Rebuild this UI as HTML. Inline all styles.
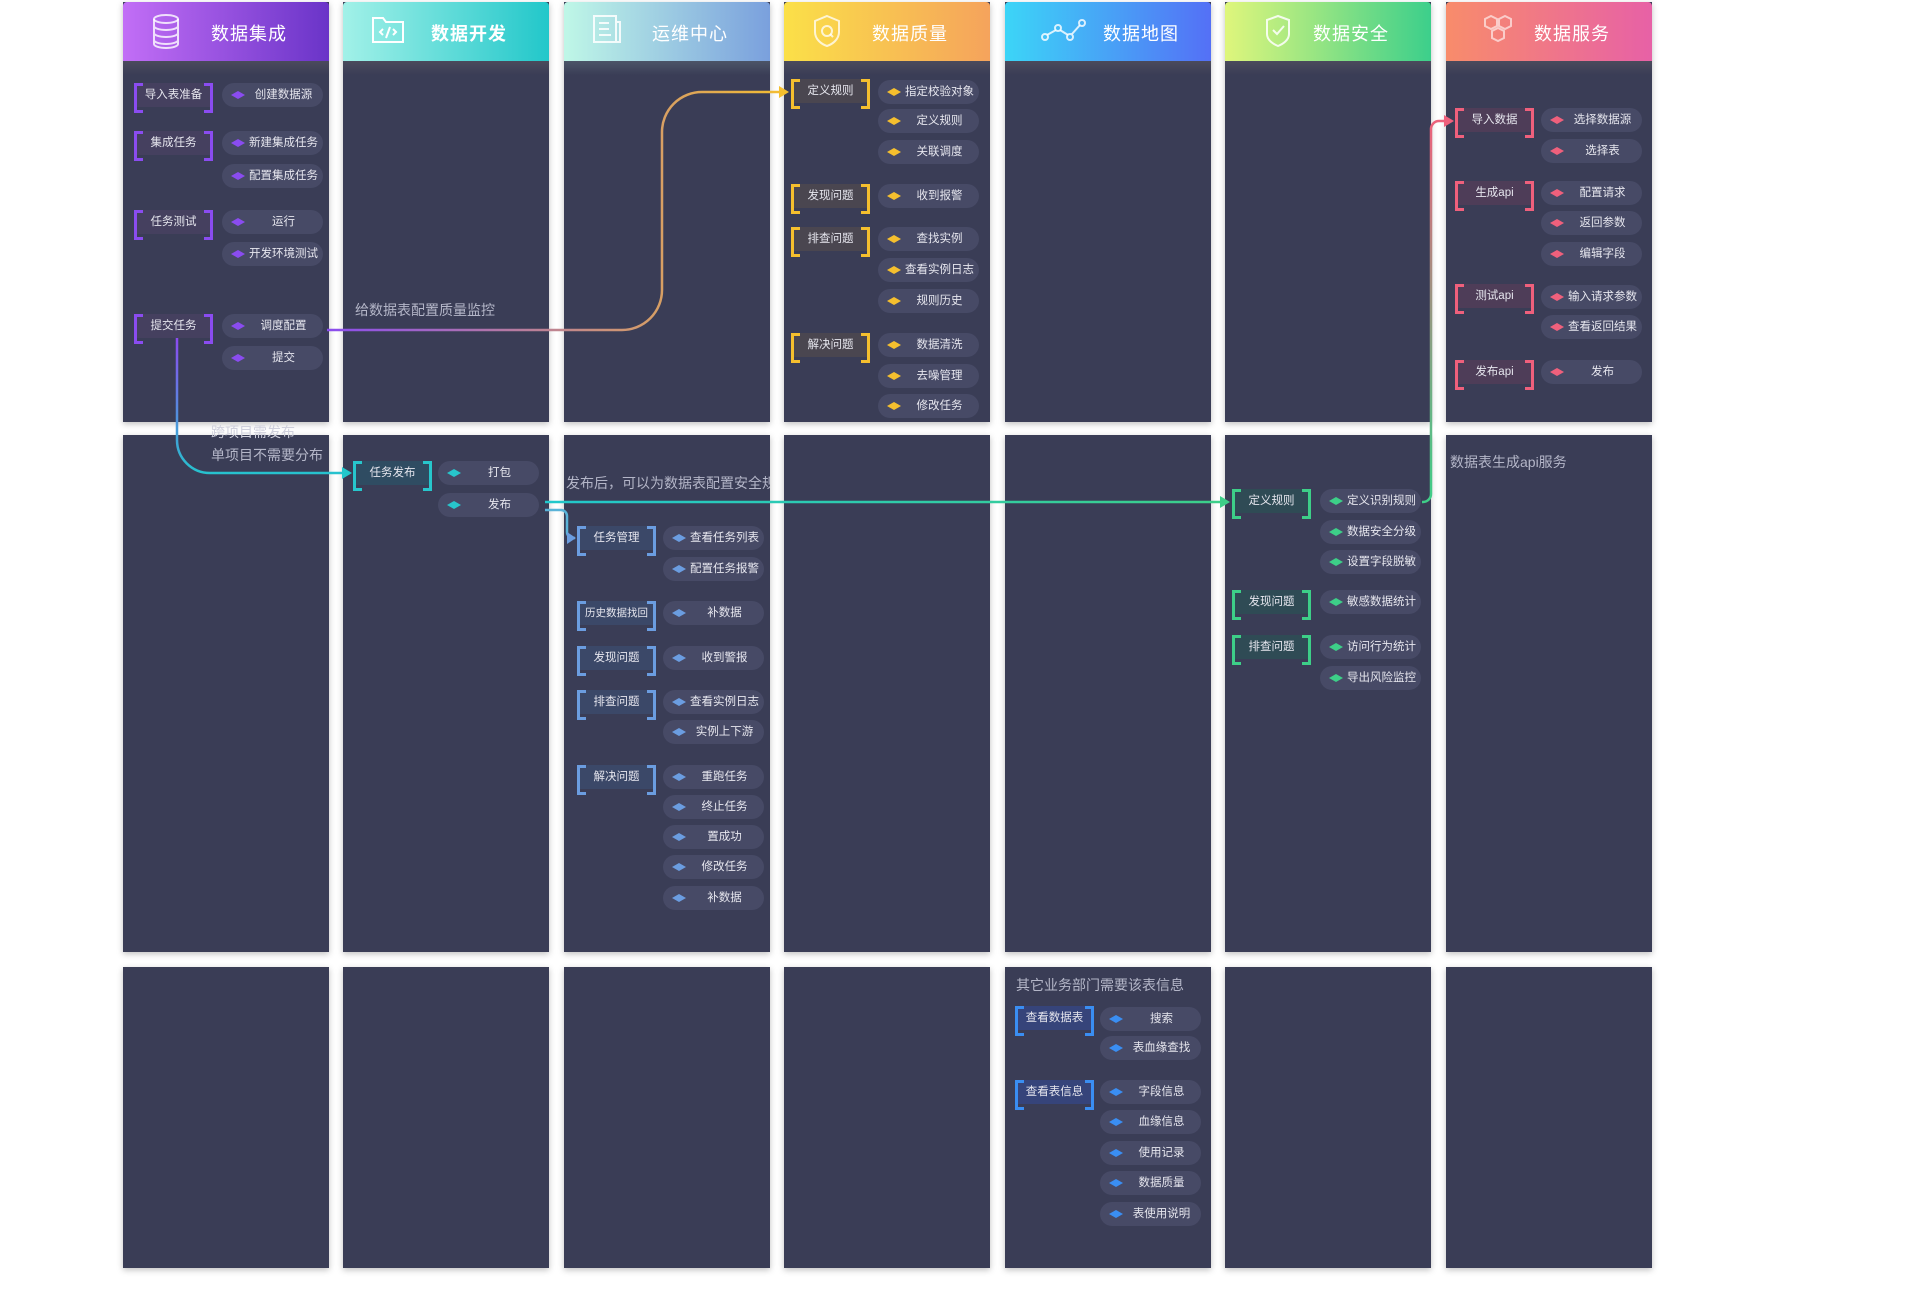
<!DOCTYPE html>
<html><head><meta charset="utf-8">
<style>
*{margin:0;padding:0;box-sizing:border-box}
body{width:1920px;height:1316px;background:#fff;position:relative;overflow:hidden;font-family:"Liberation Sans","Noto Sans CJK SC",sans-serif}
.p{position:absolute;background:#3a3d56;box-shadow:0 2px 6px rgba(0,0,0,.25);overflow:hidden}
.hd{position:absolute;left:0;top:0;width:206px;height:59px;border-radius:4px 4px 0 0}
.band{position:absolute;left:0;top:59px;width:206px;height:14px;background:linear-gradient(#4b4b5c,#3a3d56)}
.ht{position:absolute;top:18px;left:88px;color:#fff;font-size:18px;letter-spacing:1px}
.ic{position:absolute;left:28px;top:12px}
.lb{position:absolute;width:79px;height:24px;font-size:11.5px;color:#e6e6ee;text-align:center;line-height:24px;white-space:nowrap}
.lb:before,.lb:after{content:"";position:absolute;top:0;width:6px;height:24px;border:3px solid var(--c)}
.lb:before{left:0;border-right:none}
.lb:after{right:0;border-left:none}
.pl{position:absolute;width:101px;height:24px;border-radius:12px;background:#474a66;font-size:11.5px;color:#e6e6ee;line-height:24px;text-align:center;padding-left:22px;white-space:nowrap}
.pl i{position:absolute;left:9px;top:8px;width:14px;height:8px;background:var(--c);clip-path:polygon(50% 0,100% 50%,50% 100%,0 50%)}
.an{position:absolute;color:#b4b6c8;font-size:14px;white-space:nowrap}
</style></head><body>

<!-- panels row1 -->
<div class="p" style="left:123px;top:2px;width:206px;height:420px"></div>
<div class="p" style="left:343px;top:2px;width:206px;height:420px"></div>
<div class="p" style="left:564px;top:2px;width:206px;height:420px"></div>
<div class="p" style="left:784px;top:2px;width:206px;height:420px"></div>
<div class="p" style="left:1005px;top:2px;width:206px;height:420px"></div>
<div class="p" style="left:1225px;top:2px;width:206px;height:420px"></div>
<div class="p" style="left:1446px;top:2px;width:206px;height:420px"></div>
<!-- row2 -->
<div class="p" style="left:123px;top:435px;width:206px;height:517px"></div>
<div class="p" style="left:343px;top:435px;width:206px;height:517px"></div>
<div class="p" style="left:564px;top:435px;width:206px;height:517px"></div>
<div class="p" style="left:784px;top:435px;width:206px;height:517px"></div>
<div class="p" style="left:1005px;top:435px;width:206px;height:517px"></div>
<div class="p" style="left:1225px;top:435px;width:206px;height:517px"></div>
<div class="p" style="left:1446px;top:435px;width:206px;height:517px"></div>
<!-- row3 -->
<div class="p" style="left:123px;top:967px;width:206px;height:301px"></div>
<div class="p" style="left:343px;top:967px;width:206px;height:301px"></div>
<div class="p" style="left:564px;top:967px;width:206px;height:301px"></div>
<div class="p" style="left:784px;top:967px;width:206px;height:301px"></div>
<div class="p" style="left:1005px;top:967px;width:206px;height:301px"></div>
<div class="p" style="left:1225px;top:967px;width:206px;height:301px"></div>
<div class="p" style="left:1446px;top:967px;width:206px;height:301px"></div>

<!-- headers -->
<div style="position:absolute;left:123px;top:2px;width:206px;height:73px">
<div class="hd" style="background:linear-gradient(90deg,#c26ef6,#6a34c8)"></div><div class="band"></div>
<svg class="ic" width="30" height="36" viewBox="0 0 30 36" fill="none" stroke="rgba(255,255,255,.8)" stroke-width="2"><ellipse cx="15" cy="5" rx="12" ry="4"/><path d="M3 5v25c0 2.2 5.4 4 12 4s12-1.8 12-4V5M3 12c0 2.2 5.4 4 12 4s12-1.8 12-4M3 19c0 2.2 5.4 4 12 4s12-1.8 12-4M3 26c0 2.2 5.4 4 12 4s12-1.8 12-4"/></svg>
<div class="ht">数据集成</div></div>

<div style="position:absolute;left:343px;top:2px;width:206px;height:73px">
<div class="hd" style="background:linear-gradient(90deg,#a2f1e8,#22c7ca)"></div><div class="band"></div>
<svg class="ic" width="34" height="30" viewBox="0 0 34 30" fill="none" stroke="#fff" stroke-width="2"><path d="M2 4h10l3 4h17v20H2z"/><path d="M12 15l-3 3 3 3M22 15l3 3-3 3M19 13l-4 11"/></svg>
<div class="ht" style="font-weight:bold">数据开发</div></div>

<div style="position:absolute;left:564px;top:2px;width:206px;height:73px">
<div class="hd" style="background:linear-gradient(90deg,#bff7e7,#7aa0dd)"></div><div class="band" style="background:linear-gradient(#4c5568,#3a3d56)"></div>
<svg class="ic" width="30" height="30" viewBox="0 0 30 30" fill="none" stroke="rgba(255,255,255,.85)" stroke-width="2"><path d="M2 2h22v26H2zM24 8h4v20H6"/><path d="M7 9h10M7 15h10M7 21h12"/></svg>
<div class="ht">运维中心</div></div>

<div style="position:absolute;left:784px;top:2px;width:206px;height:73px">
<div class="hd" style="background:linear-gradient(90deg,#fbe048,#f5a35c)"></div><div class="band"></div>
<svg class="ic" width="30" height="34" viewBox="0 0 30 34" fill="none" stroke="rgba(255,255,255,.75)" stroke-width="2"><path d="M15 2l12 5v11c0 7-6 12-12 14C9 30 3 25 3 18V7z"/><circle cx="15" cy="17" r="5"/><path d="M18 20l3 3"/></svg>
<div class="ht">数据质量</div></div>

<div style="position:absolute;left:1005px;top:2px;width:206px;height:73px">
<div class="hd" style="background:linear-gradient(90deg,#3cd5f7,#5470f6)"></div><div class="band"></div>
<svg class="ic" style="left:36px;top:16px" width="46" height="24" viewBox="0 0 46 24" fill="none" stroke="rgba(255,255,255,.8)" stroke-width="2"><circle cx="4" cy="19" r="3"/><circle cx="17" cy="10" r="3"/><circle cx="29" cy="19" r="3"/><circle cx="41" cy="5" r="3"/><path d="M6 17l9-5M19 12l8 5M31 16l8-9"/></svg>
<div class="ht" style="left:98px">数据地图</div></div>

<div style="position:absolute;left:1225px;top:2px;width:206px;height:73px">
<div class="hd" style="background:linear-gradient(90deg,#dff67c,#3ccf8b)"></div><div class="band"></div>
<svg class="ic" style="left:40px" width="26" height="34" viewBox="0 0 26 34" fill="none" stroke="rgba(255,255,255,.85)" stroke-width="2"><path d="M13 2l11 4v14c0 6-6 10-11 12C8 30 2 26 2 20V6z"/><path d="M8 16l4 4 7-8"/></svg>
<div class="ht">数据安全</div></div>

<div style="position:absolute;left:1446px;top:2px;width:206px;height:73px">
<div class="hd" style="background:linear-gradient(90deg,#f88c6b,#e761a6)"></div><div class="band"></div>
<svg class="ic" style="left:36px" width="32" height="34" viewBox="0 0 32 34" fill="none" stroke="rgba(255,255,255,.6)" stroke-width="2"><path d="M9 2l6 3v7l-6 3-6-3V5zM23 2l6 3v7l-6 3-6-3V5zM16 14l6 3v7l-6 3-6-3v-7z"/></svg>
<div class="ht">数据服务</div></div>

<!-- annotations -->
<div class="an" style="left:211px;top:422px;color:#cfd0dc">跨项目需发布</div>
<div class="an" style="left:211px;top:445px">单项目不需要分布</div>
<div class="an" style="left:355px;top:300px">给数据表配置质量监控</div>
<div style="position:absolute;left:564px;top:435px;width:206px;height:100px;overflow:hidden"><div class="an" style="left:2px;top:38px">发布后，可以为数据表配置安全规则</div></div>
<div class="an" style="left:1450px;top:452px">数据表生成api服务</div>
<div class="an" style="left:1016px;top:975px">其它业务部门需要该表信息</div>

<!-- col1 -->
<div style="--c:#8a4cf0">
<div class="lb" style="left:134px;top:83px;background:#45405f">导入表准备</div>
<div class="lb" style="left:134px;top:131px;background:#45405f">集成任务</div>
<div class="lb" style="left:134px;top:210px;background:#45405f">任务测试</div>
<div class="lb" style="left:134px;top:314px;background:#45405f">提交任务</div>
<div class="pl" style="left:222px;top:83px"><i></i>创建数据源</div>
<div class="pl" style="left:222px;top:131px"><i></i>新建集成任务</div>
<div class="pl" style="left:222px;top:164px"><i></i>配置集成任务</div>
<div class="pl" style="left:222px;top:210px"><i></i>运行</div>
<div class="pl" style="left:222px;top:242px"><i></i>开发环境测试</div>
<div class="pl" style="left:222px;top:314px"><i></i>调度配置</div>
<div class="pl" style="left:222px;top:346px"><i></i>提交</div>
</div>

<!-- col2 -->
<div style="--c:#27c6cc">
<div class="lb" style="left:353px;top:461px;background:#2f4c62">任务发布</div>
<div class="pl" style="left:438px;top:461px"><i></i>打包</div>
<div class="pl" style="left:438px;top:493px"><i></i>发布</div>
</div>

<!-- col3 -->
<div style="--c:#6b9de0">
<div class="lb" style="left:577px;top:526px;background:#3b4868">任务管理</div>
<div class="lb" style="left:577px;top:601px;background:#3b4868;font-size:10.5px">历史数据找回</div>
<div class="lb" style="left:577px;top:646px;background:#3b4868">发现问题</div>
<div class="lb" style="left:577px;top:690px;background:#3b4868">排查问题</div>
<div class="lb" style="left:577px;top:765px;background:#3b4868">解决问题</div>
<div class="pl" style="left:663px;top:526px"><i></i>查看任务列表</div>
<div class="pl" style="left:663px;top:557px"><i></i>配置任务报警</div>
<div class="pl" style="left:663px;top:601px"><i></i>补数据</div>
<div class="pl" style="left:663px;top:646px"><i></i>收到警报</div>
<div class="pl" style="left:663px;top:690px"><i></i>查看实例日志</div>
<div class="pl" style="left:663px;top:720px"><i></i>实例上下游</div>
<div class="pl" style="left:663px;top:765px"><i></i>重跑任务</div>
<div class="pl" style="left:663px;top:795px"><i></i>终止任务</div>
<div class="pl" style="left:663px;top:825px"><i></i>置成功</div>
<div class="pl" style="left:663px;top:855px"><i></i>修改任务</div>
<div class="pl" style="left:663px;top:886px"><i></i>补数据</div>
</div>

<!-- col4 -->
<div style="--c:#f5bf2e">
<div class="lb" style="left:791px;top:79px;background:#4a4650">定义规则</div>
<div class="lb" style="left:791px;top:184px;background:#4a4650">发现问题</div>
<div class="lb" style="left:791px;top:227px;background:#4a4650">排查问题</div>
<div class="lb" style="left:791px;top:333px;background:#4a4650">解决问题</div>
<div class="pl" style="left:878px;top:80px"><i></i>指定校验对象</div>
<div class="pl" style="left:878px;top:109px"><i></i>定义规则</div>
<div class="pl" style="left:878px;top:140px"><i></i>关联调度</div>
<div class="pl" style="left:878px;top:184px"><i></i>收到报警</div>
<div class="pl" style="left:878px;top:227px"><i></i>查找实例</div>
<div class="pl" style="left:878px;top:258px"><i></i>查看实例日志</div>
<div class="pl" style="left:878px;top:289px"><i></i>规则历史</div>
<div class="pl" style="left:878px;top:333px"><i></i>数据清洗</div>
<div class="pl" style="left:878px;top:364px"><i></i>去噪管理</div>
<div class="pl" style="left:878px;top:394px"><i></i>修改任务</div>
</div>

<!-- col5 -->
<div style="--c:#3a8ef2">
<div class="lb" style="left:1015px;top:1006px;background:#36447a">查看数据表</div>
<div class="lb" style="left:1015px;top:1080px;background:#36447a">查看表信息</div>
<div class="pl" style="left:1100px;top:1007px"><i></i>搜索</div>
<div class="pl" style="left:1100px;top:1036px"><i></i>表血缘查找</div>
<div class="pl" style="left:1100px;top:1080px"><i></i>字段信息</div>
<div class="pl" style="left:1100px;top:1110px"><i></i>血缘信息</div>
<div class="pl" style="left:1100px;top:1141px"><i></i>使用记录</div>
<div class="pl" style="left:1100px;top:1171px"><i></i>数据质量</div>
<div class="pl" style="left:1100px;top:1202px"><i></i>表使用说明</div>
</div>

<!-- col6 -->
<div style="--c:#3dcf88">
<div class="lb" style="left:1232px;top:489px;background:#2f4b55">定义规则</div>
<div class="lb" style="left:1232px;top:590px;background:#2f4b55">发现问题</div>
<div class="lb" style="left:1232px;top:635px;background:#2f4b55">排查问题</div>
<div class="pl" style="left:1320px;top:489px"><i></i>定义识别规则</div>
<div class="pl" style="left:1320px;top:520px"><i></i>数据安全分级</div>
<div class="pl" style="left:1320px;top:550px"><i></i>设置字段脱敏</div>
<div class="pl" style="left:1320px;top:590px"><i></i>敏感数据统计</div>
<div class="pl" style="left:1320px;top:635px"><i></i>访问行为统计</div>
<div class="pl" style="left:1320px;top:666px"><i></i>导出风险监控</div>
</div>

<!-- col7 -->
<div style="--c:#ef607c">
<div class="lb" style="left:1455px;top:108px;background:#4e3d58">导入数据</div>
<div class="lb" style="left:1455px;top:181px;background:#4e3d58">生成api</div>
<div class="lb" style="left:1455px;top:284px;background:#4e3d58">测试api</div>
<div class="lb" style="left:1455px;top:360px;background:#4e3d58">发布api</div>
<div class="pl" style="left:1541px;top:108px"><i></i>选择数据源</div>
<div class="pl" style="left:1541px;top:139px"><i></i>选择表</div>
<div class="pl" style="left:1541px;top:181px"><i></i>配置请求</div>
<div class="pl" style="left:1541px;top:211px"><i></i>返回参数</div>
<div class="pl" style="left:1541px;top:242px"><i></i>编辑字段</div>
<div class="pl" style="left:1541px;top:285px"><i></i>输入请求参数</div>
<div class="pl" style="left:1541px;top:315px"><i></i>查看返回结果</div>
<div class="pl" style="left:1541px;top:360px"><i></i>发布</div>
</div>

<!-- connectors -->
<svg style="position:absolute;left:0;top:0" width="1920" height="1316" fill="none">
<defs>
<linearGradient id="g1" gradientUnits="userSpaceOnUse" x1="325" y1="0" x2="790" y2="0"><stop offset="0" stop-color="#8a4cf0"/><stop offset="1" stop-color="#f5bf2e"/></linearGradient>
<linearGradient id="g2" gradientUnits="userSpaceOnUse" x1="0" y1="340" x2="0" y2="480"><stop offset="0" stop-color="#8a4cf0"/><stop offset="1" stop-color="#22c8cc"/></linearGradient>
<linearGradient id="g3" gradientUnits="userSpaceOnUse" x1="545" y1="0" x2="1232" y2="0"><stop offset="0" stop-color="#22c8cc"/><stop offset="1" stop-color="#3dcf88"/></linearGradient>
<linearGradient id="g4" gradientUnits="userSpaceOnUse" x1="0" y1="505" x2="0" y2="115"><stop offset="0" stop-color="#3dcf88"/><stop offset="1" stop-color="#ef607c"/></linearGradient>
</defs>
<path d="M327 330H622a40 40 0 0 0 40-40V132a40 40 0 0 1 40-40H787" stroke="url(#g1)" stroke-width="2.5"/>
<path d="M779 86l10 6-10 6z" fill="#f5bf2e"/>
<path d="M177 338V440a33 33 0 0 0 33 33H350" stroke="url(#g2)" stroke-width="2.5"/>
<path d="M342 467l10 6-10 6z" fill="#22c8cc"/>
<path d="M545 502H1228" stroke="url(#g3)" stroke-width="2.5"/>
<path d="M1220 496l10 6-10 6z" fill="#3dcf88"/>
<path d="M545 510h16a6 6 0 0 1 6 6v16a6 6 0 0 0 6 6h2" stroke="#5ab3d8" stroke-width="2.5"/>
<path d="M567 532l9 6-9 6z" fill="#6b9de0"/>
<path d="M1422 502h1a8 8 0 0 0 8-8V129a8 8 0 0 1 8-8h13" stroke="url(#g4)" stroke-width="2.5"/>
<path d="M1444 115l10 6-10 6z" fill="#ef607c"/>
</svg>
</body></html>
